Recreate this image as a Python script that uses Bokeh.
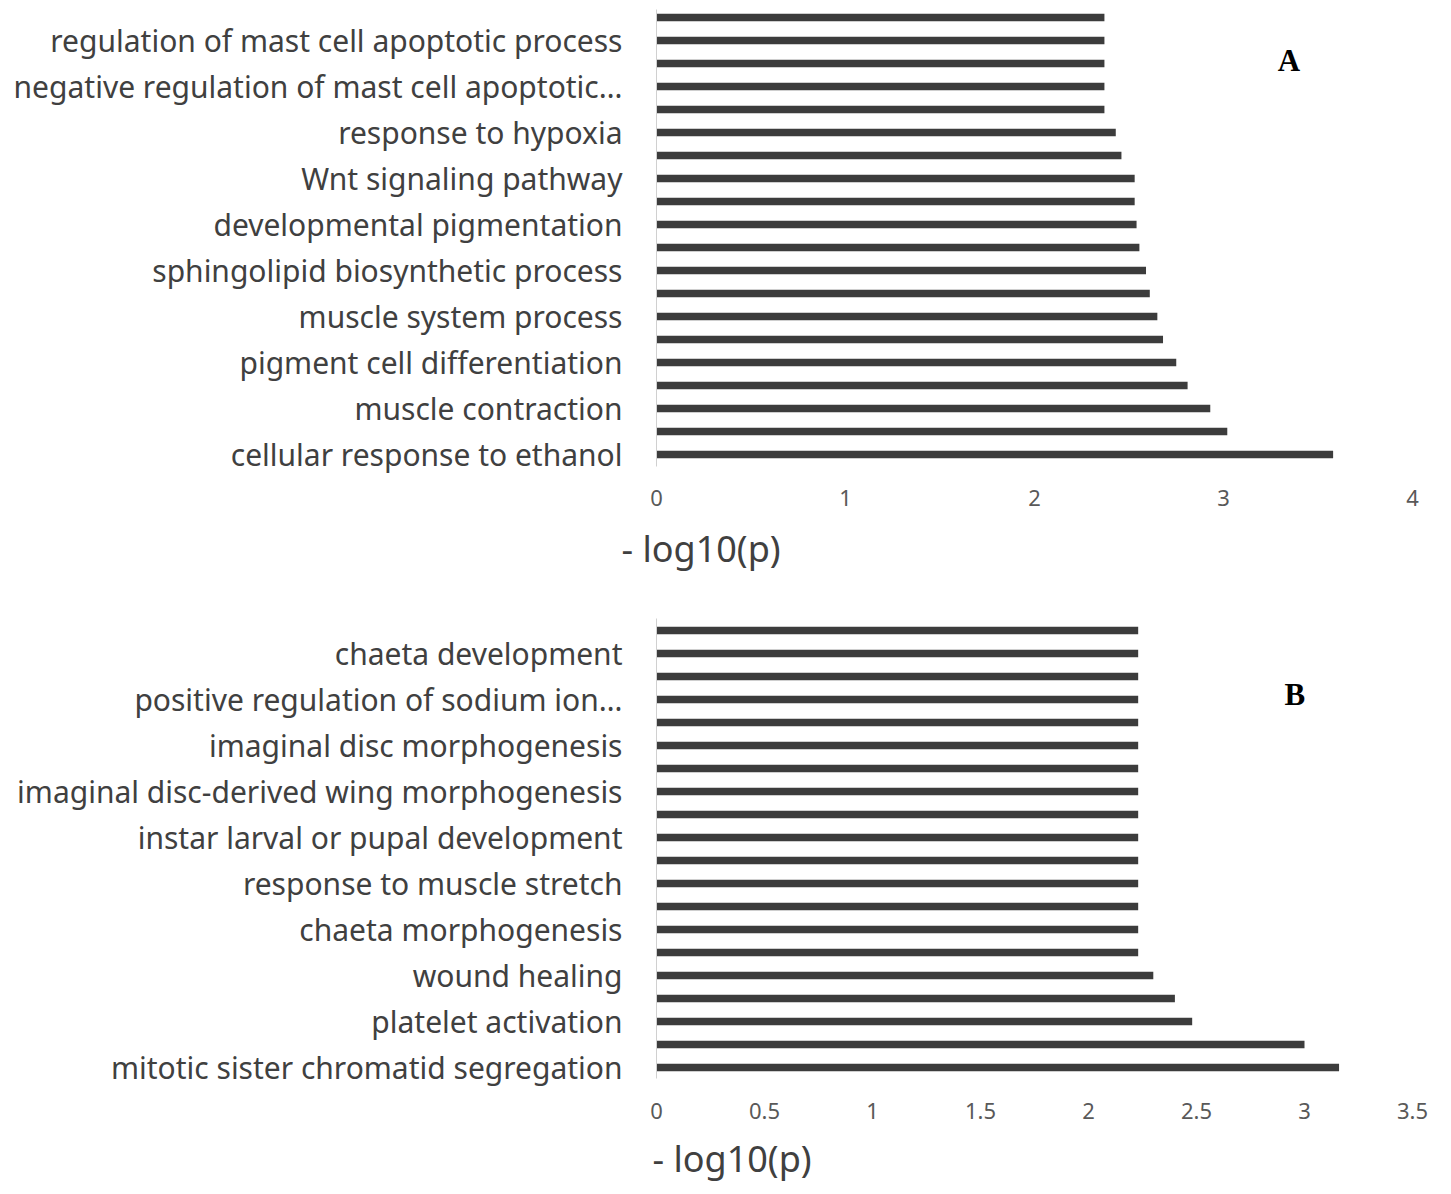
from bokeh.plotting import figure
from bokeh.models import Range1d, FixedTicker, Label, NumeralTickFormatter, Title
from bokeh.layouts import column
from bokeh.embed import file_html
from bokeh.resources import INLINE

# ---- data (bottom bar first); "" = category whose label is skipped on the axis ----
a_terms = [
    "cellular response to ethanol", "",
    "muscle contraction", "",
    "pigment cell differentiation", "",
    "muscle system process", "",
    "sphingolipid biosynthetic process", "",
    "developmental pigmentation", "",
    "Wnt signaling pathway", "",
    "response to hypoxia", "",
    "negative regulation of mast cell apoptotic\u2026", "",
    "regulation of mast cell apoptotic process", "",
]
a_values = [3.58, 3.02, 2.93, 2.81, 2.75, 2.68, 2.65, 2.61, 2.59, 2.555,
            2.54, 2.53, 2.53, 2.46, 2.43, 2.37, 2.37, 2.37, 2.37, 2.37]
a_ticks = [0, 1, 2, 3, 4]

b_terms = [
    "mitotic sister chromatid segregation", "",
    "platelet activation", "",
    "wound healing", "",
    "chaeta morphogenesis", "",
    "response to muscle stretch", "",
    "instar larval or pupal development", "",
    "imaginal disc-derived wing morphogenesis", "",
    "imaginal disc morphogenesis", "",
    "positive regulation of sodium ion\u2026", "",
    "chaeta development", "",
]
b_values = [3.16, 3.00, 2.48, 2.40, 2.30, 2.23, 2.23, 2.23, 2.23, 2.23,
            2.23, 2.23, 2.23, 2.23, 2.23, 2.23, 2.23, 2.23, 2.23, 2.23]
b_ticks = [0, 0.5, 1, 1.5, 2, 2.5, 3, 3.5]

x_title = "- log10(p)"

LABEL_FONT = "Noto Sans"
TEXT_COLOR = "#404040"


def make_panel(terms, values, ticks, letter, letter_xy, height, left, right,
               top, bottom, y_range, tick_standoff, title_offset, title_standoff):
    p = figure(width=1450, height=height, output_backend="svg",
               toolbar_location=None, min_border_left=left,
               min_border_right=right, min_border_top=top,
               min_border_bottom=bottom,
               x_range=Range1d(ticks[0], ticks[-1]),
               y_range=Range1d(*y_range))
    p.outline_line_color = None
    p.grid.grid_line_color = None
    p.background_fill_color = "white"
    p.border_fill_color = "white"

    ys = list(range(1, len(values) + 1))
    p.hbar(y=ys, left=0, right=values, height=0.33,
           fill_color="#3c3c3c", line_color=None)

    # x axis
    xa = p.xaxis[0]
    xa.ticker = FixedTicker(ticks=ticks)
    xa.formatter = NumeralTickFormatter(format="0.[0]")
    xa.axis_line_color = None
    xa.major_tick_line_color = None
    xa.minor_tick_line_color = None
    xa.major_tick_out = 0
    xa.major_tick_in = 0
    xa.major_label_standoff = tick_standoff
    xa.major_label_text_font = LABEL_FONT
    xa.major_label_text_font_size = "22px"
    xa.major_label_text_color = "#595959"

    # y axis: line + labels on every other category
    ya = p.yaxis[0]
    lab_y = [y for y, t in zip(ys, terms) if t]
    ya.ticker = FixedTicker(ticks=lab_y)
    ya.major_label_overrides = {y: t for y, t in zip(ys, terms) if t}
    ya.axis_line_color = "#d0d0d0"
    ya.major_tick_line_color = None
    ya.minor_tick_line_color = None
    ya.major_tick_out = 0
    ya.major_tick_in = 0
    ya.major_label_standoff = 34
    ya.major_label_text_font = LABEL_FONT
    ya.major_label_text_font_size = "30px"
    ya.major_label_text_color = TEXT_COLOR

    # axis title, placed below and left-aligned like the source
    p.add_layout(Title(text=x_title, align="left", offset=title_offset,
                       standoff=title_standoff, text_font=LABEL_FONT,
                       text_font_size="36px", text_font_style="normal",
                       text_color=TEXT_COLOR), "below")

    # panel letter
    p.add_layout(Label(x=letter_xy[0], y=letter_xy[1], text=letter,
                       text_align="center", text_baseline="middle",
                       text_font="Liberation Serif", text_font_style="bold",
                       text_font_size="31px", text_color="black"))
    return p


pA = make_panel(a_terms, a_values, a_ticks, "A", (3.346, 18.13), 600,
                654, 38, 9, 134, (0.478, 20.348), 23, -35, 26)
pB = make_panel(b_terms, b_values, b_ticks, "B", (2.955, 17.22), 593,
                656, 35, 18, 115, (0.522, 20.522), 24, -4, 20)

layout = column(pA, pB)
open("out.html", "w").write(file_html(layout, INLINE))
